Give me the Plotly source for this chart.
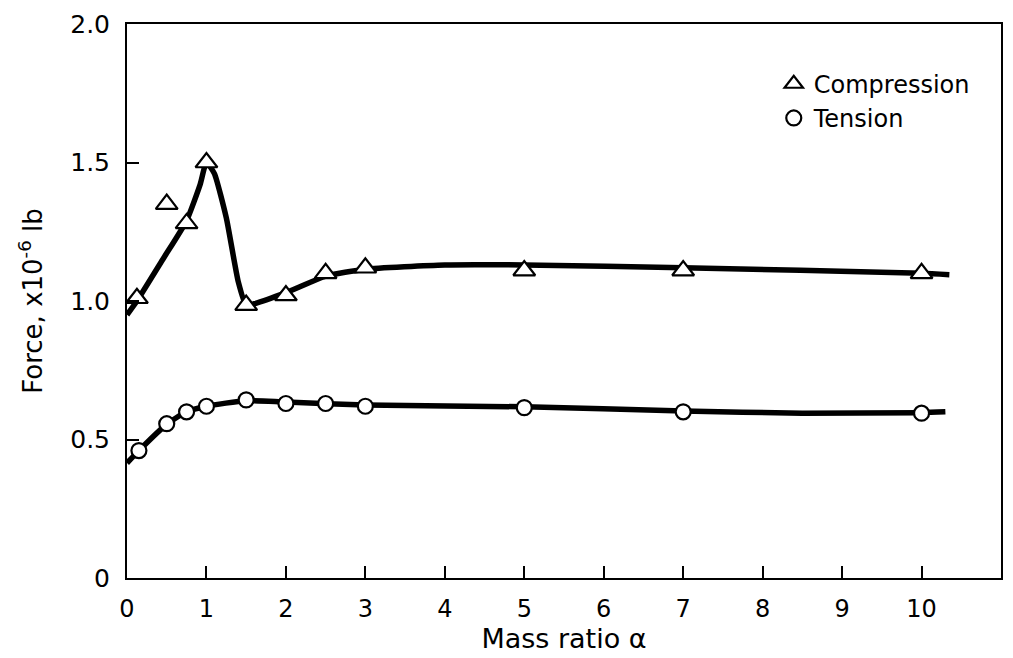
import plotly.graph_objects as go

# measured points
comp_x = [0.125, 0.5, 0.75, 1.0, 1.5, 2.0, 2.5, 3.0, 5.0, 7.0, 10.0]
comp_y = [1.01, 1.35, 1.28, 1.50, 0.985, 1.02, 1.10, 1.12, 1.11, 1.11, 1.10]
tens_x = [0.15, 0.5, 0.75, 1.0, 1.5, 2.0, 2.5, 3.0, 5.0, 7.0, 10.0]
tens_y = [0.46, 0.557, 0.60, 0.62, 0.643, 0.63, 0.63, 0.62, 0.615, 0.60, 0.595]

# fitted curves
comp_curve_x = [0.0, 0.125, 0.45, 0.75, 0.92, 1.0, 1.1, 1.25, 1.4, 1.5, 1.6, 2.0, 2.5, 3.0, 4.0, 5.0, 7.0, 10.0, 10.35]
comp_curve_y = [0.95, 1.0, 1.15, 1.29, 1.42, 1.50, 1.46, 1.30, 1.07, 0.985, 0.99, 1.03, 1.09, 1.115, 1.13, 1.13, 1.12, 1.10, 1.095]
tens_curve_x = [0.0, 0.15, 0.5, 0.75, 1.0, 1.5, 2.0, 3.0, 5.0, 7.0, 8.5, 10.0, 10.3]
tens_curve_y = [0.415, 0.46, 0.555, 0.60, 0.62, 0.64, 0.635, 0.625, 0.618, 0.603, 0.595, 0.597, 0.60]

x_ticks = list(range(0, 12))
y_ticks = [0, 0.5, 1.0, 1.5, 2.0]
y_tick_text = ["0", "0.5", "1.0", "1.5", "2.0"]

FONT = "DejaVu Sans"

fig = go.Figure()
fig.add_trace(go.Scatter(x=comp_curve_x, y=comp_curve_y, mode="lines",
                         line=dict(color="black", width=5.5, shape="spline", smoothing=0.5),
                         showlegend=False, hoverinfo="skip"))
fig.add_trace(go.Scatter(x=tens_curve_x, y=tens_curve_y, mode="lines",
                         line=dict(color="black", width=5.5, shape="spline", smoothing=0.6),
                         showlegend=False, hoverinfo="skip"))
fig.add_trace(go.Scatter(x=comp_x, y=comp_y, mode="markers", name="Compression",
                         marker=dict(symbol="triangle-up", size=19, color="white",
                                     line=dict(color="black", width=2.2))))
fig.add_trace(go.Scatter(x=tens_x, y=tens_y, mode="markers", name="Tension",
                         marker=dict(symbol="circle", size=15, color="white",
                                     line=dict(color="black", width=2.2))))

fig.update_layout(
    width=1013, height=658,
    margin=dict(l=127, r=10, t=18, b=80),
    paper_bgcolor="white", plot_bgcolor="white",
    font=dict(family=FONT, color="black", size=22),
    legend=dict(x=0.74, y=0.932, xanchor="left", yanchor="top",
                bgcolor="rgba(0,0,0,0)", font=dict(size=24, family=FONT),
                itemwidth=30, tracegroupgap=0),
    xaxis=dict(range=[0, 11], tickmode="array", tickvals=x_ticks,
               ticks="inside", ticklen=12, tickwidth=1.5, tickcolor="black",
               showline=True, linecolor="black", linewidth=2, mirror=True,
               showgrid=False, zeroline=False, ticklabelstandoff=8,
               tickfont=dict(size=24, family=FONT),
               title=dict(text="Mass ratio α", font=dict(size=27, family=FONT), standoff=4)),
    yaxis=dict(range=[0, 2.0], tickmode="array", tickvals=y_ticks, ticktext=y_tick_text,
               ticks="inside", ticklen=12, tickwidth=1.5, tickcolor="black",
               showline=True, linecolor="black", linewidth=2, mirror=True,
               showgrid=False, zeroline=False, ticklabelstandoff=10,
               tickfont=dict(size=25, family=FONT),
               title=dict(text="Force, x10<sup>-6</sup> lb", font=dict(size=26, family=FONT), standoff=20)),
)

fig.write_html("out.html")
